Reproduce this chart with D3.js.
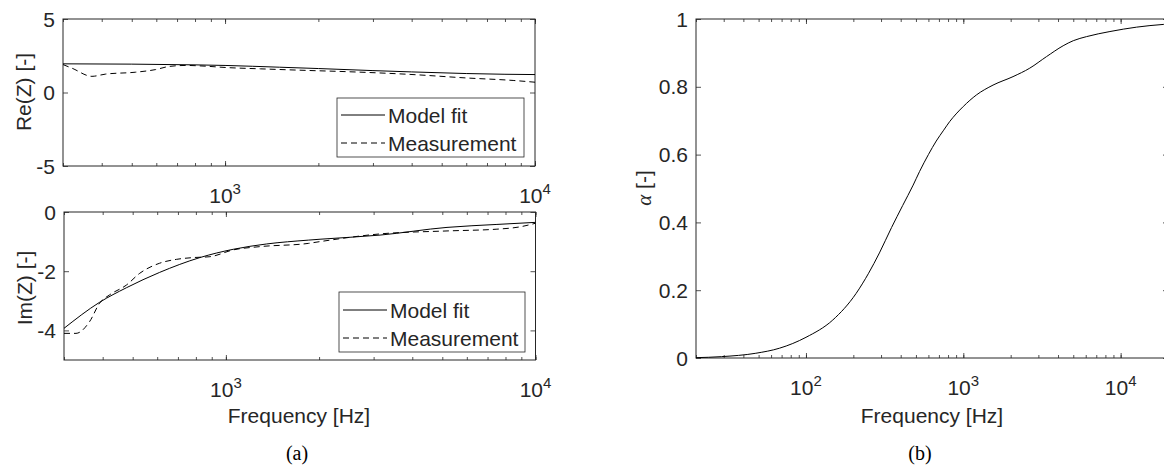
<!DOCTYPE html>
<html>
<head>
<meta charset="utf-8">
<script src="https://cdn.jsdelivr.net/npm/d3@7"></script>
<style>
  body { margin: 0; background: #fff; }
  svg { display: block; }
  text { font-family: "Liberation Sans", Arial, sans-serif; fill: #262626; }
</style>
</head>
<body>
<script>
// ---- data ----
// (a) top: real part of impedance
var reModelFreq = [300, 500, 800, 1000, 1500, 2000, 3000, 4000, 6000, 8000, 10000];
var reModel     = [1.95, 1.93, 1.88, 1.84, 1.72, 1.63, 1.49, 1.40, 1.29, 1.24, 1.22];
var reMeasFreq  = [300, 321, 372, 411, 514, 597, 659, 746, 866, 1005, 1300, 1850, 2450, 4040, 6000, 8500, 10000];
var reMeas      = [1.90, 1.65, 1.10, 1.25, 1.38, 1.56, 1.77, 1.84, 1.79, 1.70, 1.61, 1.50, 1.42, 1.22, 0.99, 0.82, 0.70];

// (a) bottom: imaginary part
var imModelFreq = [300, 391, 477, 611, 824, 1056, 1354, 1847, 2014, 3148, 5178, 7505, 10000];
var imModel     = [-3.93, -3.05, -2.56, -2.04, -1.54, -1.26, -1.08, -0.95, -0.92, -0.78, -0.52, -0.42, -0.35];
var imMeasFreq  = [300, 328, 363, 391, 421, 477, 527, 611, 692, 784, 888, 1056, 1288, 1847, 2014, 3148, 5178, 7505, 8930, 10000];
var imMeas      = [-4.1, -4.1, -3.7, -3.08, -2.8, -2.47, -2.07, -1.73, -1.6, -1.54, -1.51, -1.28, -1.17, -1.06, -1.0, -0.74, -0.64, -0.58, -0.5, -0.38];

// (b) absorption coefficient
var alphaFreq = [20, 29, 48, 68, 100, 148, 208, 250, 293, 350, 412, 480, 527, 600, 673, 750, 818, 900, 1000, 1212, 1545, 2070, 2645, 3378, 4310, 5000, 6067, 8550, 12640, 18660, 20000];
var alpha     = [0.001, 0.004, 0.014, 0.029, 0.061, 0.112, 0.19, 0.25, 0.31, 0.385, 0.45, 0.51, 0.55, 0.60, 0.64, 0.672, 0.697, 0.72, 0.742, 0.776, 0.805, 0.830, 0.855, 0.889, 0.921, 0.936, 0.948, 0.963, 0.976, 0.984, 0.985];

var reTicks = [-5, 0, 5];
var imTicks = [-4, -2, 0];
var alphaTicks = [0, 0.2, 0.4, 0.6, 0.8, 1];
var legendLabels = ["Model fit", "Measurement"];

var W = 1164, H = 469;
var axisColor = "#262626";
var fs = 21;

var svg = d3.select("body").append("svg")
    .attr("width", W)
    .attr("height", H);

// minor ticks for a log axis
function logMinors(lo, hi) {
  var out = [];
  for (var e = Math.floor(Math.log10(lo)); e <= Math.ceil(Math.log10(hi)); e++) {
    for (var m = 1; m < 10; m++) {
      var v = m * Math.pow(10, e);
      if (v >= lo && v <= hi) out.push(v);
    }
  }
  return out;
}

function panel(o) {
  var x = d3.scaleLog().domain(o.xd).range([o.l, o.r]);
  var y = d3.scaleLinear().domain(o.yd).range([o.b, o.t]);
  var g = svg.append("g");

  var xMaj = o.xTicks, xMin = logMinors(o.xd[0], o.xd[1]);

  // ticks, all four sides, pointing inward
  var sides = [
    [d3.axisBottom(x), "translate(0," + o.b + ")", -5, -3, xMaj, xMin],
    [d3.axisTop(x), "translate(0," + o.t + ")", -5, -3, xMaj, xMin],
    [d3.axisLeft(y), "translate(" + o.l + ",0)", -5, null, o.yTicks, null],
    [d3.axisRight(y), "translate(" + o.r + ",0)", -5, null, o.yTicks, null]
  ];
  sides.forEach(function(s) {
    var ax = g.append("g").attr("transform", s[1])
      .call(s[0].tickValues(s[4]).tickSize(s[2]).tickFormat(""));
    ax.select(".domain").remove();
    ax.selectAll("line").attr("stroke", axisColor).attr("stroke-width", 0.8);
    if (s[5]) {
      var mn = g.append("g").attr("transform", s[1])
        .call(s[0].tickValues(s[5]).tickSize(s[3]).tickFormat(""));
      mn.select(".domain").remove();
      mn.selectAll("line").attr("stroke", axisColor).attr("stroke-width", 0.8);
    }
  });

  // box
  g.append("rect")
    .attr("x", o.l).attr("y", o.t)
    .attr("width", o.r - o.l).attr("height", o.b - o.t)
    .attr("fill", "none").attr("stroke", axisColor).attr("stroke-width", 1);

  // y tick labels
  g.selectAll(".ylab").data(o.yTicks).enter().append("text")
    .attr("x", o.l - 8)
    .attr("y", function(d) { return y(d); })
    .attr("dy", "0.36em")
    .attr("text-anchor", "end")
    .style("font-size", fs + "px")
    .text(function(d) { return String(d); });

  // x tick labels 10^n
  xMaj.forEach(function(v) {
    var t = g.append("text")
      .attr("x", x(v)).attr("y", o.b + 37)
      .attr("text-anchor", "middle")
      .style("font-size", fs + "px");
    t.append("tspan").text("10");
    t.append("tspan").attr("dy", -9).style("font-size", "15px")
      .text(String(Math.round(Math.log10(v))));
  });

  // curves
  var line = d3.line()
    .x(function(d) { return x(d[0]); })
    .y(function(d) { return y(d[1]); })
    .curve(d3.curveMonotoneX);
  var clip = "clip" + o.id;
  svg.append("clipPath").attr("id", clip).append("rect")
    .attr("x", o.l).attr("y", o.t).attr("width", o.r - o.l).attr("height", o.b - o.t);
  o.series.forEach(function(s) {
    g.append("path")
      .datum(d3.zip(s.f, s.v))
      .attr("clip-path", "url(#" + clip + ")")
      .attr("fill", "none")
      .attr("stroke", "#000")
      .attr("stroke-width", 1)
      .attr("stroke-dasharray", s.dash ? "6,4" : null)
      .attr("d", line);
  });

  // legend
  if (o.legend) {
    var L = o.legend;
    g.append("rect")
      .attr("x", L.x).attr("y", L.y).attr("width", L.w).attr("height", L.h)
      .attr("fill", "#fff").attr("stroke", axisColor).attr("stroke-width", 0.8);
    legendLabels.forEach(function(lab, i) {
      var yy = L.y + L.rows[i];
      g.append("line")
        .attr("x1", L.x + 4).attr("x2", L.x + 48)
        .attr("y1", yy).attr("y2", yy)
        .attr("stroke", "#000").attr("stroke-width", 1)
        .attr("stroke-dasharray", i === 1 ? "6,4" : null);
      g.append("text")
        .attr("x", L.x + 51).attr("y", yy).attr("dy", "0.36em")
        .style("font-size", fs + "px")
        .text(lab);
    });
  }
  return {x: x, y: y, g: g};
}

// (a) top
panel({
  id: "re", l: 63, r: 535, t: 19, b: 166,
  xd: [300, 10000], yd: [-5, 5],
  xTicks: [1000, 10000], yTicks: reTicks,
  series: [
    {f: reModelFreq, v: reModel, dash: false},
    {f: reMeasFreq, v: reMeas, dash: true}
  ],
  legend: {x: 337, y: 98, w: 187, h: 59, rows: [17, 45]}
});

// (a) bottom
panel({
  id: "im", l: 64, r: 535.5, t: 212, b: 360,
  xd: [300, 10000], yd: [-5, 0],
  xTicks: [1000, 10000], yTicks: imTicks,
  series: [
    {f: imModelFreq, v: imModel, dash: false},
    {f: imMeasFreq, v: imMeas, dash: true}
  ],
  legend: {x: 339, y: 292, w: 186, h: 60, rows: [18, 46]}
});

// (b)
panel({
  id: "al", l: 696, r: 1168, t: 19, b: 358,
  xd: [20, 20000], yd: [0, 1],
  xTicks: [100, 1000, 10000], yTicks: alphaTicks,
  series: [{f: alphaFreq, v: alpha, dash: false}]
});

// axis titles
svg.append("text")
  .attr("transform", "translate(31,92) rotate(-90)")
  .attr("text-anchor", "middle").style("font-size", fs + "px")
  .text("Re(Z) [-]");
svg.append("text")
  .attr("transform", "translate(32,288) rotate(-90)")
  .attr("text-anchor", "middle").style("font-size", fs + "px")
  .text("Im(Z) [-]");
var at = svg.append("text")
  .attr("transform", "translate(651,188) rotate(-90)")
  .attr("text-anchor", "middle").style("font-size", fs + "px");
at.append("tspan")
  .style("font-family", "'Liberation Serif', 'Times New Roman', serif")
  .style("font-style", "italic")
  .text("\u03b1");
at.append("tspan").text(" [-]");

svg.append("text")
  .attr("x", 299).attr("y", 423)
  .attr("text-anchor", "middle").style("font-size", fs + "px")
  .text("Frequency [Hz]");
svg.append("text")
  .attr("x", 932).attr("y", 423)
  .attr("text-anchor", "middle").style("font-size", fs + "px")
  .text("Frequency [Hz]");

// sub-figure captions
svg.append("text")
  .attr("x", 297).attr("y", 460)
  .attr("text-anchor", "middle")
  .style("font-family", "'Liberation Serif', 'Times New Roman', serif")
  .style("font-size", "20px").style("fill", "#000")
  .text("(a)");
svg.append("text")
  .attr("x", 920).attr("y", 460)
  .attr("text-anchor", "middle")
  .style("font-family", "'Liberation Serif', 'Times New Roman', serif")
  .style("font-size", "20px").style("fill", "#000")
  .text("(b)");
</script>
</body>
</html>
